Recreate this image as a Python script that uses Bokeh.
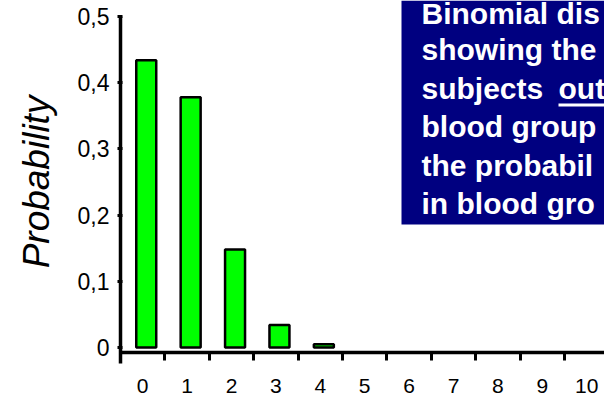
from bokeh.plotting import figure
from bokeh.models import FixedTicker, BoxAnnotation, Range1d, ColumnDataSource, LinearAxis
from bokeh.embed import file_html
from bokeh.resources import INLINE
from bokeh.transform import dodge
from bokeh.core.properties import value

# ---- data ----
categories = list(range(11))
probability = [0.434, 0.378, 0.148, 0.034, 0.005, 0.0, 0.0, 0.0, 0.0, 0.0, 0.0]
y_ticks = [0, 0.1, 0.2, 0.3, 0.4, 0.5]
y_tick_labels = ["0", "0,1", "0,2", "0,3", "0,4", "0,5"]
box_lines = ["Binomial dis", "showing the", "subjects", "blood group",
             "the probabil", "in blood gro"]
underlined_text = "out"

# ---- geometry (picture pixels -> data) ----
W, H = 604, 402
LEFT, BOTTOM = 120, 39
FW, FH = W - LEFT, H - BOTTOM
STEP = 44.4          # px per category
PPU = 662.0          # px per probability unit
Y_ZERO_PX = 347.0
X0 = -0.5
X1 = X0 + FW / STEP


def px_x(px):
    return X0 + (px - LEFT) / STEP


def px_y(py):
    return (Y_ZERO_PX - py) / PPU


Y0 = px_y(FH)
Y1 = px_y(0)
FONT = "Liberation Sans"

p = figure(width=W, height=H, x_range=Range1d(X0, X1), y_range=Range1d(Y0, Y1),
           min_border_left=LEFT, min_border_right=0, min_border_top=0,
           min_border_bottom=BOTTOM, toolbar_location=None, tools="",
           output_backend="svg")
p.outline_line_color = None
p.xgrid.visible = False
p.ygrid.visible = False
p.background_fill_color = "white"
p.border_fill_color = "white"

# bars
shown = [(c, v) for c, v in zip(categories, probability) if v > 0.001]
src = ColumnDataSource(dict(x=[c for c, _ in shown], top=[v for _, v in shown]))
p.vbar(x=dodge("x", 0.08, range=p.x_range), top="top", bottom=0, width=0.45,
       source=src, fill_color="#00FF00", line_color="black", line_width=2.5)

# y axis
ya = p.yaxis[0]
ya.ticker = FixedTicker(ticks=y_ticks)
ya.major_label_overrides = {t: l for t, l in zip(y_ticks, y_tick_labels)}
ya.bounds = (Y0, 0.5)
ya.axis_line_width = 3.5
ya.axis_line_color = "black"
ya.major_tick_out = 3
ya.major_tick_in = 2
ya.major_tick_line_width = 3
ya.minor_tick_out = 0
ya.minor_tick_in = 0
ya.major_label_standoff = 8
ya.major_label_text_font = FONT
ya.major_label_text_font_size = "23px"
ya.major_label_text_color = "black"
ya.axis_label = "Probability"
ya.axis_label_text_font = FONT
ya.axis_label_text_font_size = "37px"
ya.axis_label_text_font_style = "italic"
ya.axis_label_text_color = "black"
ya.axis_label_standoff = 18

# x axis: line and between-category ticks at its own location
xa = p.xaxis[0]
xa.fixed_location = px_y(351.5)
xa.ticker = FixedTicker(ticks=categories, minor_ticks=[c + 0.5 for c in categories[:-1]])
xa.major_label_overrides = {c: "" for c in categories}
xa.bounds = (px_x(118), X1 + 1)
xa.axis_line_width = 3.5
xa.axis_line_color = "black"
xa.major_tick_out = 0
xa.major_tick_in = 0
xa.minor_tick_out = 8
xa.minor_tick_in = 0
xa.minor_tick_line_width = 3
xa.minor_tick_line_color = "black"

# x axis labels
xl = LinearAxis(ticker=FixedTicker(ticks=categories))
xl.axis_line_color = None
xl.major_tick_line_color = None
xl.minor_tick_line_color = None
xl.major_tick_out = 0
xl.major_tick_in = 0
xl.minor_tick_out = 0
xl.minor_tick_in = 0
xl.major_label_standoff = 15
xl.major_label_text_font = FONT
xl.major_label_text_font_size = "21px"
xl.major_label_text_color = "black"
p.add_layout(xl, "below")

# text box
box = BoxAnnotation(left=px_x(401), bottom=px_y(224), fill_color="#000080",
                    fill_alpha=1.0, line_alpha=0, level="underlay")
p.add_layout(box)

baselines = [21.5, 58.4, 96.8, 135.2, 173.6, 212.0]
SHIFT = 9
p.text(x=[px_x(421)] * len(box_lines), y=[px_y(b - SHIFT) for b in baselines], text=box_lines,
       text_font=value(FONT), text_font_style="bold", text_font_size="30px",
       text_color="white", text_baseline="alphabetic", text_align="left")
p.text(x=[px_x(558)], y=[px_y(baselines[2] - SHIFT)], text=[underlined_text],
       text_font=value(FONT), text_font_style="bold", text_font_size="30px",
       text_color="white", text_baseline="alphabetic", text_align="left")
p.segment(x0=[px_x(558)], y0=[px_y(104.5)], x1=[X1 + 1],
          y1=[px_y(104.5)], line_color="white", line_width=3)

open("out.html", "w").write(file_html(p, INLINE))
